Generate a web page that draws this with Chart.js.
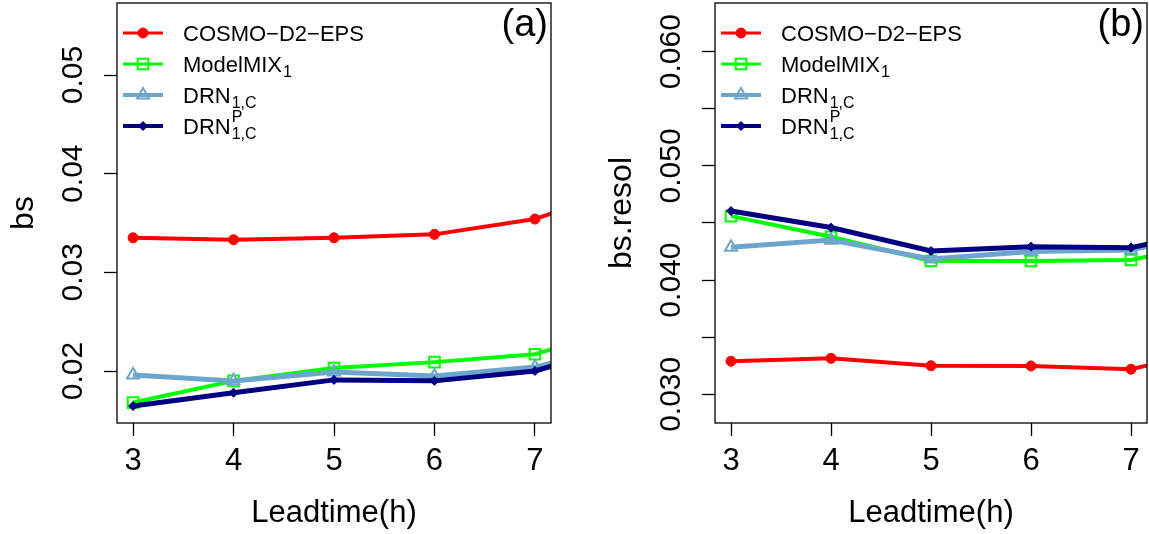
<!DOCTYPE html>
<html>
<head>
<meta charset="utf-8">
<title>bs and bs.resol by leadtime</title>
<script src="https://cdn.jsdelivr.net/npm/chart.js"></script>
<style>
  body { margin: 0; background: #fff; }
  #wrap { position: relative; width: 1149px; height: 534px; }
  canvas { position: absolute; top: 0; }
  #panelA { left: 0; }
  #panelB { left: 575px; }
</style>
</head>
<body>
<div id="wrap">
<canvas id="panelA" width="575" height="534"></canvas>
<canvas id="panelB" width="574" height="534"></canvas>
</div>
<script>
// leadtimes (h); 8 lies just past the clipped right edge
const leadtimes = [3, 4, 5, 6, 7, 8];
const xTicks = [3, 4, 5, 6, 7];

// (a) bs
const bsCosmo = [0.0335, 0.0333, 0.0335, 0.03385, 0.0354, 0.0388];
const bsModelMix = [0.0168, 0.0190, 0.0203, 0.0209, 0.0217, 0.0247];
const bsDrn = [0.0196, 0.0190, 0.0199, 0.0195, 0.0204, 0.0228];
const bsDrnP = [0.01645, 0.0178, 0.0191, 0.0190, 0.0200, 0.0230];
const bsTicks = [0.02, 0.03, 0.04, 0.05];
const bsTickLabels = ['0.02', '0.03', '0.04', '0.05'];

// (b) bs.resol
const resolCosmo = [0.0329, 0.03315, 0.0325, 0.03248, 0.0322, 0.0342];
const resolModelMix = [0.0456, 0.0438, 0.04167, 0.04167, 0.04176, 0.0436];
const resolDrn = [0.04287, 0.0435, 0.04185, 0.0425, 0.04264, 0.0445];
const resolDrnP = [0.04605, 0.0446, 0.04255, 0.04293, 0.04284, 0.0447];
const resolTicks = [0.030, 0.035, 0.040, 0.045, 0.050, 0.055, 0.060];
const resolTickLabels = ['0.030', '', '0.040', '', '0.050', '', '0.060'];

const legendLabels = [
  { main: 'COSMO−D2−EPS' },
  { main: 'ModelMIX', sub: '1' },
  { main: 'DRN', sub: '1,C' },
  { main: 'DRN', sub: '1,C', sup: 'P' },
];

const FONT = '"Liberation Sans", Arial, Helvetica, sans-serif';

const styles = [
  { color: '#FF0000', width: 4, pointStyle: 'circle', radius: 5, fill: '#FF0000', pbw: 1 },
  { color: '#00FF00', width: 4, pointStyle: 'rect', radius: 7.5, fill: 'rgba(0,0,0,0)', pbw: 2 },
  { color: '#6CA6CD', width: 5, pointStyle: 'triangle', radius: 7, fill: 'rgba(0,0,0,0)', pbw: 2 },
  { color: '#000080', width: 5, pointStyle: 'rectRot', radius: 4.5, fill: '#000080', pbw: 1 },
];

function makeDatasets(series) {
  return series.map((vals, i) => {
    const s = styles[i];
    return {
      label: legendLabels[i].main + (legendLabels[i].sub || ''),
      data: leadtimes.map((x, j) => ({ x, y: vals[j] })),
      borderColor: s.color,
      backgroundColor: s.fill,
      borderWidth: s.width,
      pointStyle: s.pointStyle,
      pointRadius: s.radius,
      pointBorderWidth: s.pbw,
      pointBorderColor: s.color,
      pointBackgroundColor: s.fill,
      tension: 0,
      clip: 0,
      order: 4 - i,
    };
  });
}

const panelDecor = {
  id: 'panelDecor',
  afterDraw(chart, args, opts) {
    const ctx = chart.ctx, area = chart.chartArea;
    const xs = chart.scales.x, ys = chart.scales.y;
    ctx.save();
    ctx.strokeStyle = '#000';
    ctx.lineWidth = 1.3;
    ctx.strokeRect(area.left, area.top, area.right - area.left, area.bottom - area.top);
    ctx.fillStyle = '#000';
    ctx.textBaseline = 'alphabetic';

    // x tick labels
    ctx.font = '31px ' + FONT;
    ctx.textAlign = 'center';
    xs.ticks.forEach(t => ctx.fillText(String(t.value), xs.getPixelForValue(t.value), area.bottom + 47));

    // y tick labels, rotated like R's las=0
    ctx.font = '30px ' + FONT;
    ys.ticks.forEach((t, i) => {
      const lab = opts.yLabels[i];
      if (!lab) return;
      ctx.save();
      ctx.translate(area.left - 35, ys.getPixelForValue(t.value));
      ctx.rotate(-Math.PI / 2);
      ctx.fillText(lab, 0, 0);
      ctx.restore();
    });

    // axis titles
    ctx.font = '31px ' + FONT;
    ctx.fillText('Leadtime(h)', (area.left + area.right) / 2, area.bottom + 99);
    ctx.save();
    ctx.translate(area.left - 84, (area.top + area.bottom) / 2);
    ctx.rotate(-Math.PI / 2);
    ctx.font = '32px ' + FONT;
    ctx.fillText(opts.yTitle, 0, 0);
    ctx.restore();

    // panel tag
    ctx.font = '38px ' + FONT;
    ctx.textAlign = 'right';
    ctx.fillText(opts.tag, area.right - 3, area.top + 33);

    // legend
    chart.data.datasets.forEach((ds, i) => {
      const lab = legendLabels[i];
      const y = area.top + 30 + i * 31;
      const x0 = area.left + 6;
      ctx.strokeStyle = ds.borderColor;
      ctx.lineWidth = ds.borderWidth - 1;
      ctx.beginPath();
      ctx.moveTo(x0, y);
      ctx.lineTo(x0 + 40, y);
      ctx.stroke();
      ctx.fillStyle = ds.pointBackgroundColor;
      ctx.lineWidth = ds.pointBorderWidth;
      Chart.helpers.drawPoint(ctx, {
        pointStyle: ds.pointStyle, radius: ds.pointRadius,
        borderWidth: ds.pointBorderWidth, rotation: 0,
      }, x0 + 20, y);

      ctx.fillStyle = '#000';
      ctx.textAlign = 'left';
      ctx.font = '22px ' + FONT;
      const tx = area.left + 66;
      ctx.fillText(lab.main, tx, y + 8);
      const w = ctx.measureText(lab.main).width;
      ctx.font = '16px ' + FONT;
      if (lab.sub) ctx.fillText(lab.sub, tx + w + 1, y + 13);
      if (lab.sup) ctx.fillText(lab.sup, tx + w + 1, y - 4);
    });
    ctx.restore();
  }
};

function makeChart(id, series, yMin, yMax, yTicks, yLabels, yTitle, tag, yWidth, padRight) {
  return new Chart(document.getElementById(id), {
    type: 'line',
    data: { datasets: makeDatasets(series) },
    options: {
      responsive: false,
      animation: false,
      events: [],
      layout: { autoPadding: false, padding: { top: 3, right: padRight, left: 0, bottom: 0 } },
      plugins: {
        legend: { display: false },
        tooltip: { enabled: false },
        panelDecor: { yTitle, tag, yLabels },
      },
      scales: {
        x: {
          type: 'linear',
          min: 2.84,
          max: 7.16,
          afterBuildTicks: s => { s.ticks = xTicks.map(v => ({ value: v })); },
          afterFit: s => { s.height = 111; },
          ticks: { display: false },
          grid: { drawOnChartArea: false, drawTicks: true, tickLength: 13, tickColor: '#000', tickWidth: 1.3 },
          border: { display: false },
        },
        y: {
          type: 'linear',
          min: yMin,
          max: yMax,
          afterBuildTicks: s => { s.ticks = yTicks.map(v => ({ value: v })); },
          afterFit: s => { s.width = yWidth; },
          ticks: { display: false },
          grid: { drawOnChartArea: false, drawTicks: true, tickLength: 13, tickColor: '#000', tickWidth: 1.3 },
          border: { display: false },
        },
      },
    },
    plugins: [panelDecor],
  });
}

makeChart('panelA', [bsCosmo, bsModelMix, bsDrn, bsDrnP], 0.01473, 0.0573,
  bsTicks, bsTickLabels, 'bs', '(a)', 117, 24);
makeChart('panelB', [resolCosmo, resolModelMix, resolDrn, resolDrnP], 0.02749, 0.06426,
  resolTicks, resolTickLabels, 'bs.resol', '(b)', 140, 2);
</script>
</body>
</html>
